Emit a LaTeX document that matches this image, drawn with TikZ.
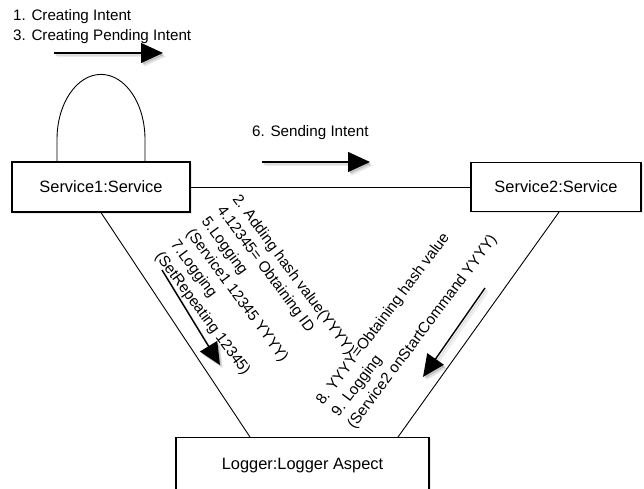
\documentclass[tikz,border=0pt]{standalone}
\usepackage{fontspec}
\setmainfont{Liberation Sans}
\usetikzlibrary{arrows.meta,calc,shadows}
\begin{document}
\begin{tikzpicture}[x=1pt,y=-1pt,
  box/.style={draw, fill=white, line width=1.2pt, inner sep=0pt,
    font=\fontsize{16.4}{19}\selectfont,
    drop shadow={shadow xshift=1.5pt, shadow yshift=-1.5pt, opacity=0.18}},
  link/.style={line width=0.9pt},
  msg/.style={line width=1.4pt, -{Triangle[length=22pt,width=20pt]}},
  msgshade/.style={msg, draw=black, fill=black, opacity=0.12},
  note/.style={font=\fontsize{15.2}{19}\selectfont, inner sep=0pt},
]
\useasboundingbox (0,0) rectangle (644,488);
\clip (0,0) rectangle (644,488);

% objects
\node[box, minimum width=178pt, minimum height=50pt] (s1) at (101,187) {Service1:Service};
\node[box, minimum width=170pt, minimum height=49pt] (s2) at (556,187) {Service2:Service};
\node[box, minimum width=253pt, minimum height=56pt] (lg) at (302.5,465.5) {Logger:Logger Aspect};

% links between objects
\coordinate (lgL) at (250,437);
\coordinate (lgR) at (398,437);
\draw[link] (s1.east) -- (s2.west);
\draw[link] (s1.south) -- (lgL);
\draw[link] ([xshift=3pt]s2.south) -- (lgR);
\draw[link] ([xshift=-44pt]s1.north) -- ++(0,-22)
  arc[start angle=180, end angle=360, x radius=44, y radius=65]
  -- ([xshift=44pt]s1.north);

% message arrows, each with a soft offset shade underneath
\coordinate (a1s) at (54,53);   \coordinate (a1e) at (163,53);
\coordinate (a6s) at (262,162); \coordinate (a6e) at (370,162);
\coordinate (aLs) at (162,270); \coordinate (aLe) at (220,365);
\coordinate (aRs) at (485,288); \coordinate (aRe) at (423,377);
\foreach \s/\e in {a1s/a1e, a6s/a6e, aLs/aLe, aRs/aRe} {
  \draw[msgshade] ([shift={(1.5,2)}]\s) -- ([shift={(1.5,2)}]\e);
  \draw[msgshade, opacity=0.07] ([shift={(3,3.5)}]\s) -- ([shift={(3,3.5)}]\e);
  \draw[msg] (\s) -- (\e);
}

% message labels
\node[note, anchor=base west] (n1) at (13,20.5) {1. Creating Intent};
\node[note, anchor=base west] (n3) at (13,40) {3. Creating Pending Intent};
\node[note, anchor=base west] (n6) at (252,136) {6. Sending Intent};

\begin{scope}[every node/.style={note, anchor=base west, rotate=-53.5}]
  \node (n2) at (232.0,199.0) {2. Adding hash value(YYYY)};
  \node (n4) at (216.6,210.4) {4.12345= Obtaining ID};
  \node (n5) at (201.1,221.8) {5.Logging};
  \node (n5b) at (185.7,233.3) {(Service1 12345 YYYY)};
  \node (n7) at (170.3,244.7) {7.Logging};
  \node (n7b) at (154.8,256.1) {(SetRepeating 12345)};
\end{scope}

\begin{scope}[every node/.style={note, anchor=base west, rotate=53}]
  \node (n8) at (323.0,406.0) {8. YYYY=Obtaining hash value};
  \node (n9) at (338.6,417.7) {9. Logging};
  \node (n9b) at (354.2,429.4) {(Service2 onStartCommand YYYY)};
\end{scope}
\end{tikzpicture}
\end{document}
